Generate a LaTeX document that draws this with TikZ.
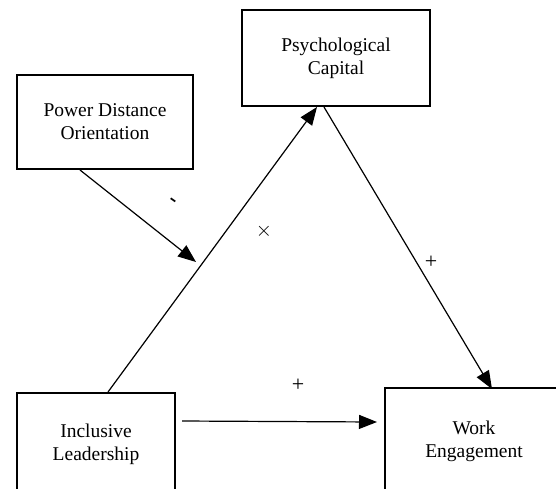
\documentclass[tikz,border=0pt]{standalone}
\usepackage{fontspec}
\setmainfont{Liberation Serif}
\usepackage{tikz}
\usetikzlibrary{arrows.meta,calc}

\begin{document}
\begin{tikzpicture}[x=1pt,y=-1pt,>={Triangle[length=18pt,width=14pt]}]
 \tikzstyle{varbox} = [draw=black,line width=2pt,fill=white,rectangle,align=center,font=\fontsize{19.5}{23}\selectfont]
 \tikzstyle{path} = [line width=1.2pt,->]
 \tikzstyle{sign} = [font=\fontsize{22}{24}\selectfont,inner sep=0]

 \useasboundingbox (0,0) rectangle (556,488);
 \clip (0,0) rectangle (556,488);

% Boxes (the two bottom ones run past the page)
 \node[varbox,minimum width=188pt,minimum height=96pt] (psycap) at (336,58) {Psychological\\Capital};
 \node[varbox,minimum width=176pt,minimum height=94pt] (pdo) at (105,122) {Power Distance\\Orientation};
 \node[varbox,minimum width=158pt,minimum height=102pt] (incl) at (96,444) {Inclusive\\Leadership};
 \node[varbox,minimum width=178pt,minimum height=107pt] (work) at (474,441.5) {Work\\Engagement};
 \coordinate (moder) at (196,262);

% Paths
 \draw[path] ($(incl.north)+(12,0)$) -- ($(psycap.south)+(-19,0)$);
 \draw[path] ($(psycap.south)+(-12,0)$) -- ($(work.north)+(18,2)$);
 \draw[path] ($(pdo.south)+(-25,0)$) -- (moder);
 \draw[path] ($(incl.north east)+(6,29)$) -- ($(work.north west)+(-7,35)$);

% Signs
 \node[sign,rotate=-35] (minus) at (172,202) {\textbf{-}};
 \node[sign] (times) at (264,231) {$\times$};
 \node[sign] (plusa) at (431,262) {+};
 \node[sign] (plusb) at (298,385) {+};

\end{tikzpicture}
\end{document}
